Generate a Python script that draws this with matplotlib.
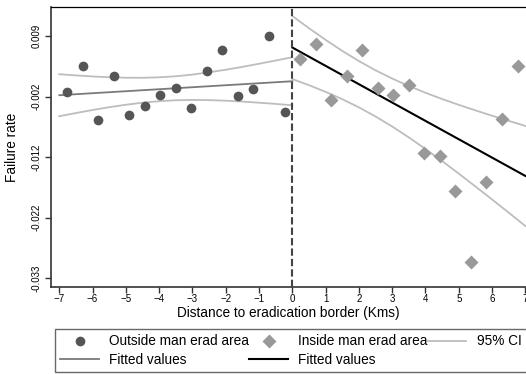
import numpy as np
import matplotlib.pyplot as plt
from matplotlib.lines import Line2D

plt.rcParams['font.family'] = ['Liberation Sans', 'DejaVu Sans']

# binned failure rates
x_out = [-6.77, -6.30, -5.83, -5.37, -4.90, -4.43, -3.97, -3.50, -3.03, -2.57, -2.10, -1.63, -1.17, -0.70, -0.23]
y_out = [-0.0009, 0.0036, -0.0056, 0.0019, -0.0047, -0.0033, -0.0013, -0.0001, -0.0036, 0.0028, 0.0064, -0.0016, -0.0003, 0.0087, -0.0043]
x_in = [0.23, 0.70, 1.17, 1.63, 2.10, 2.57, 3.03, 3.50, 3.97, 4.43, 4.90, 5.37, 5.83, 6.30, 6.77]
y_in = [0.0048, 0.0073, -0.0022, 0.0019, 0.0064, -0.0002, -0.0014, 0.0003, -0.0113, -0.0118, -0.0177, -0.0299, -0.0162, -0.0054, 0.0036]

# fitted lines (read at the ends)
fit_out_x = [-7, 0]
fit_out_y = [-0.00139, 0.00100]
fit_in_x = [0, 7]
fit_in_y = [0.00677, -0.01520]

# 95% CI bands, read every half km
ci_out_x = [-7, -6.5, -6, -5.5, -5, -4.5, -4, -3.5, -3, -2.5, -2, -1.5, -1, -0.5, 0]
ci_out_hi = [0.00220, 0.00200, 0.00182, 0.00168, 0.00160, 0.00159, 0.00167, 0.00185,
             0.00214, 0.00253, 0.00297, 0.00346, 0.00399, 0.00454, 0.00511]
ci_out_lo = [-0.00498, -0.00444, -0.00392, -0.00344, -0.00302, -0.00267, -0.00241, -0.00225,
             -0.00220, -0.00223, -0.00233, -0.00248, -0.00267, -0.00288, -0.00311]
ci_in_x = [0, 0.5, 1, 1.5, 2, 2.5, 3, 3.5, 4, 4.5, 5, 5.5, 6, 6.5, 7]
ci_in_hi = [0.01216, 0.01007, 0.00808, 0.00619, 0.00445, 0.00287, 0.00146, 0.00019,
            -0.00097, -0.00204, -0.00304, -0.00398, -0.00490, -0.00578, -0.00664]
ci_in_lo = [0.00138, 0.00033, -0.00082, -0.00207, -0.00347, -0.00503, -0.00674, -0.00861,
            -0.01059, -0.01266, -0.01480, -0.01700, -0.01922, -0.02148, -0.02376]

ytick_vals = [0.0087, -0.00165, -0.0120, -0.02235, -0.0327]
ytick_labels = ['0.009', '-0.002', '-0.012', '-0.022', '-0.033']
xticks = list(range(-7, 8))

fig = plt.figure(figsize=(5.26, 3.74), dpi=100)
ax = fig.add_axes([51 / 526, 1 - 287 / 374, 475 / 526, 280 / 374])

ci_col = '#bdbdbd'
ax.plot(ci_out_x, ci_out_hi, color=ci_col, lw=1.3, zorder=2)
ax.plot(ci_out_x, ci_out_lo, color=ci_col, lw=1.3, zorder=2)
ax.plot(ci_in_x, ci_in_hi, color=ci_col, lw=1.3, zorder=2)
ax.plot(ci_in_x, ci_in_lo, color=ci_col, lw=1.3, zorder=2)
ax.plot(fit_out_x, fit_out_y, color='#7a7a7a', lw=1.3, zorder=2)
ax.plot(fit_in_x, fit_in_y, color='black', lw=1.5, zorder=2)

ax.plot(x_out, y_out, 'o', color='#555555', ms=7, mec='none', zorder=3)
ax.plot(x_in, y_in, 'D', color='#999999', ms=7, mec='none', zorder=3)

ax.axvline(0, color='#444444', lw=1.5, ls=(0, (3.5, 1.5)), zorder=4)

ax.set_xlim(-7.25, 7.02)
ax.set_ylim(-0.0342, 0.0137)
ax.set_xticks(xticks)
ax.set_yticks(ytick_vals)
ax.set_yticklabels(ytick_labels, rotation=90, va='center')
ax.tick_params(axis='both', labelsize=7, length=4, width=1, color='#333333')
ax.tick_params(axis='y', pad=3)
ax.tick_params(axis='x', pad=1)

for side in ['left', 'bottom']:
    ax.spines[side].set_linewidth(1.2)
    ax.spines[side].set_color('#333333')
ax.spines['top'].set_linewidth(0.9)
ax.spines['right'].set_visible(False)

ax.set_ylabel('Failure rate', fontsize=9.8)
ax.yaxis.set_label_coords(-0.067, 0.5)
ax.set_xlabel('Distance to eradication border (Kms)', fontsize=9.8, va='center')
ax.xaxis.set_label_coords(0.5, -0.093)

h_out = Line2D([], [], ls='none', marker='o', color='#555555', ms=7, mec='none')
h_in = Line2D([], [], ls='none', marker='D', color='#999999', ms=7, mec='none')
h_ci = Line2D([], [], color=ci_col, lw=1.3)
h_f1 = Line2D([], [], color='#7a7a7a', lw=1.3)
h_f2 = Line2D([], [], color='black', lw=1.5)
leg = fig.legend([h_out, h_f1, h_in, h_f2, h_ci],
                 ['Outside man erad area', 'Fitted values', 'Inside man erad area', 'Fitted values', '95% CI'],
                 ncol=3, loc='upper left', bbox_to_anchor=(55 / 526, 1 - 329 / 374),
                 fontsize=9.8, frameon=True, fancybox=False, edgecolor='#444444',
                 handlelength=2.8, handletextpad=0.8, columnspacing=0.0,
                 borderpad=0.4, labelspacing=0.3, borderaxespad=0)
leg.get_frame().set_linewidth(1.0)

fig.savefig('out.png', dpi=100)
